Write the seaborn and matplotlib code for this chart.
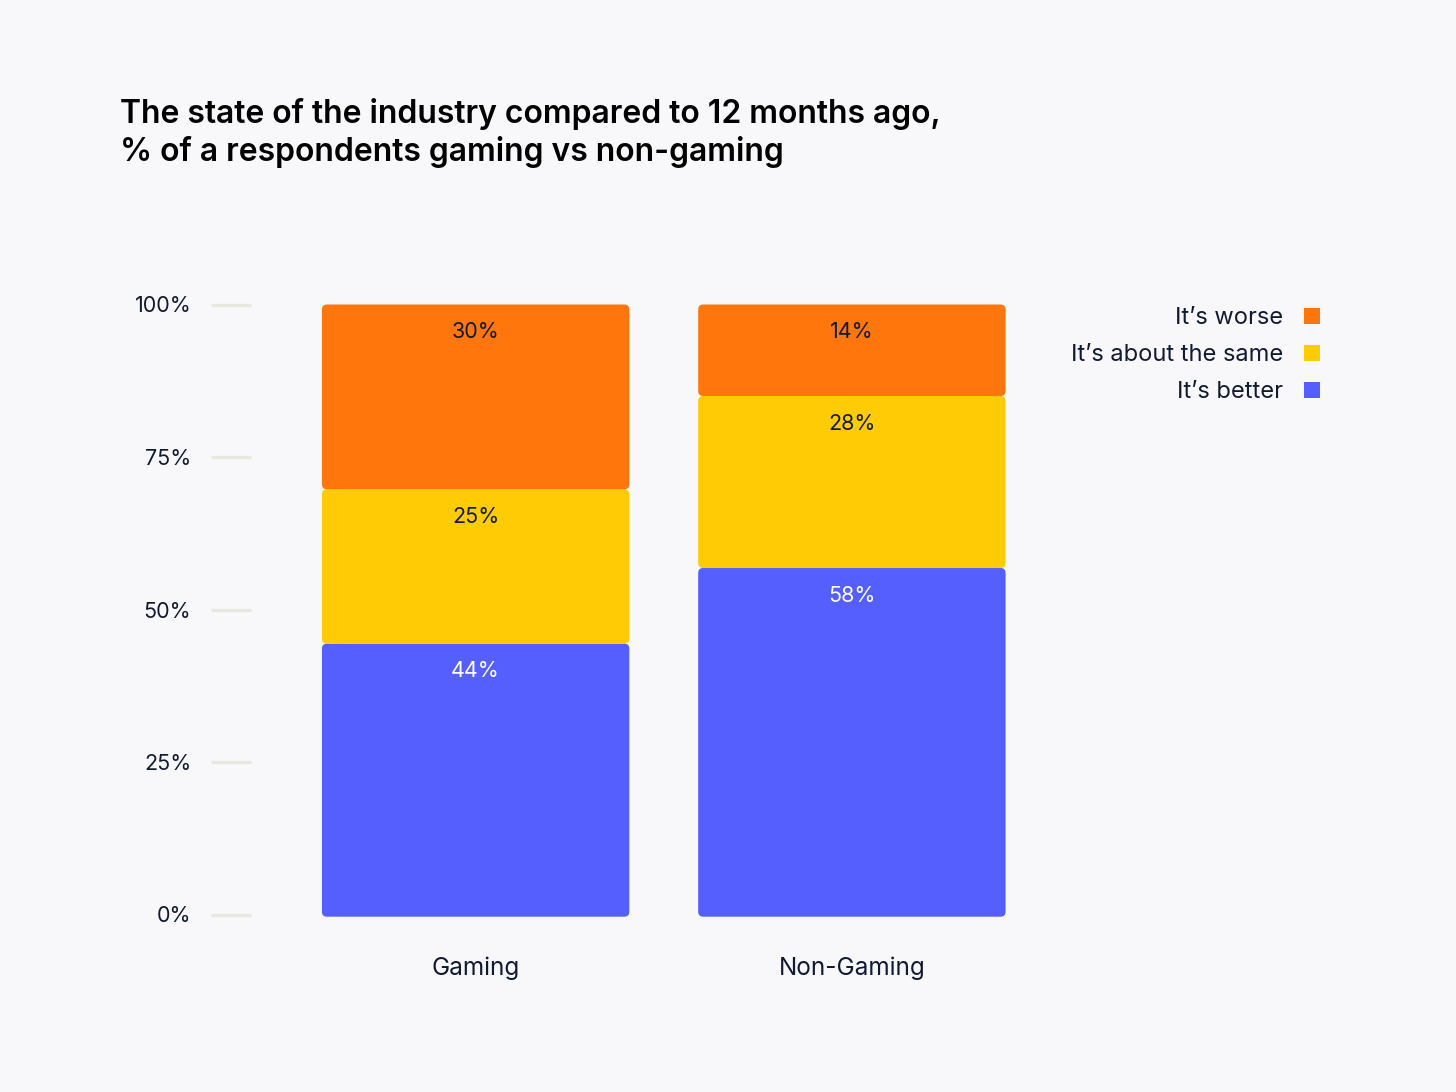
import matplotlib
matplotlib.use("Agg")
import matplotlib.pyplot as plt
import seaborn as sns
import pandas as pd
import numpy as np
from matplotlib.patches import FancyBboxPatch
from matplotlib.lines import Line2D

# ---- data ----
groups = ["Gaming", "Non-Gaming"]
series = ["It’s better", "It’s about the same", "It’s worse"]
better = [44.4, 56.8]
same = [25.3, 28.2]
worse = [30.3, 15.0]
better_labels = ["44%", "58%"]
same_labels = ["25%", "28%"]
worse_labels = ["30%", "14%"]
yticks = [0, 25, 50, 75, 100]
ytick_labels = ["0%", "25%", "50%", "75%", "100%"]
colors = ["#545ffe", "#ffcb05", "#ff760d"]
label_colors = ["#ffffff", "#111a33", "#111a33"]
title = "The state of the industry compared to 12 months ago,\n% of a respondents gaming vs non-gaming"

BG = "#f8f8fa"
TEXT = "#111a33"
W, H = 1456, 1092

sns.set_theme(style="white")
plt.rcParams["font.family"] = ["Inter", "DejaVu Sans"]

fig = plt.figure(figsize=(W / 100, H / 100), dpi=100, facecolor=BG)
ax = fig.add_axes([251 / W, 1 - 914.5 / H, 789 / W, 610 / H])
ax.set_facecolor(BG)

values = [better, same, worse]
labels = [better_labels, same_labels, worse_labels]
bottom = np.zeros(len(groups))
for name, vals, col in zip(series, values, colors):
    df = pd.DataFrame({"group": groups, "value": vals})
    sns.barplot(data=df, x="group", y="value", order=groups, color=col,
                saturation=1, width=0.817, errorbar=None, bottom=bottom.copy(),
                ax=ax, linewidth=0)
    bottom = bottom + np.array(vals)

ax.set_xlim(-0.597, 1.5)
ax.set_ylim(0, 100)

# convert rectangles to rounded boxes
px_x = 789 / (1.5 + 0.597)
px_y = 610 / 100
r = 5
rects = list(ax.patches)
for i, p in enumerate(rects):
    layer = i // len(groups)
    gi = i % len(groups)
    x0, y0 = p.get_x(), p.get_y()
    w, h = p.get_width(), p.get_height()
    fc = p.get_facecolor()
    p.remove()
    ext = 2.2 / px_y if layer == 0 else 0.0
    box = FancyBboxPatch((x0, y0 - ext), w, h + ext,
                         boxstyle=f"round,pad=0,rounding_size={r / px_x}",
                         mutation_aspect=(r / px_y) / (r / px_x),
                         facecolor=fc, edgecolor="none", linewidth=0,
                         clip_on=False)
    ax.add_patch(box)
    ax.annotate(labels[layer][gi], (x0 + w / 2, y0 + h), xytext=(0, -20),
                textcoords="offset points", ha="center", va="center",
                fontsize=15.5, color=label_colors[layer])

for s in ax.spines.values():
    s.set_visible(False)
ax.set_yticks(yticks)
ax.set_yticklabels(ytick_labels)
ax.set_xlabel("")
ax.set_ylabel("")
ax.tick_params(axis="y", left=True, length=29, width=2.4, color="#e8e8e0",
               pad=14, labelsize=15.5, labelcolor=TEXT)
ax.tick_params(axis="x", bottom=False, length=0, pad=30, labelsize=17.5,
               labelcolor=TEXT)
ax.grid(False)

# legend
handles = [Line2D([], [], marker="s", linestyle="", markersize=11.5,
                  markerfacecolor=c, markeredgewidth=0) for c in reversed(colors)]
leg = fig.legend(handles, list(reversed(series)), loc="upper right",
                 bbox_to_anchor=(1320 / W, 1 - 307 / H), frameon=False,
                 markerfirst=False, borderpad=0, borderaxespad=0,
                 handlelength=0.7, handletextpad=0.85, labelspacing=0.64,
                 fontsize=17)
for t in leg.get_texts():
    t.set_color(TEXT)

fig.text(120 / W, 1 - 98 / H, title, ha="left", va="top", fontsize=23,
         fontweight="semibold", color="#000000", linespacing=1.22)

fig.savefig("out.png", dpi=100, facecolor=BG)
